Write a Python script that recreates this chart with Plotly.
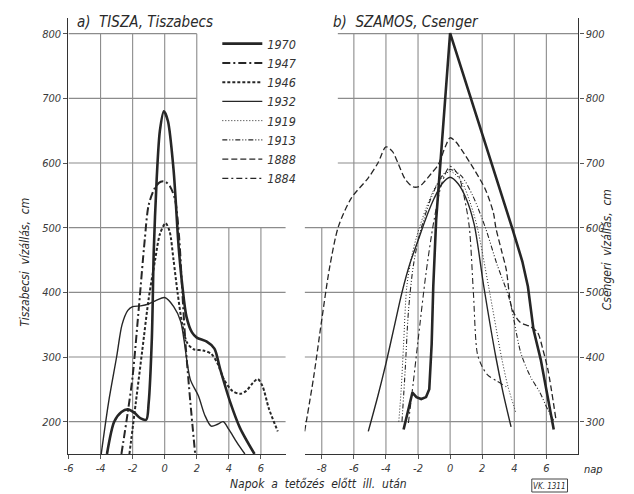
import plotly.graph_objects as go

# ---------------- data: a) TISZA, Tiszabecs (left panel) ----------------
T1970_X = [-3.6, -3.15, -2.7, -2.3, -1.9, -1.5, -1.15, -1.0, -0.8, -0.68, -0.5, -0.3, -0.05, 0.2, 0.55, 0.87, 1.1, 1.36, 1.7, 2.0, 2.6, 3.1, 3.45, 4.1, 4.7, 5.6]
T1970_Y = [150, 200, 215, 219, 214, 205, 203, 229, 330, 466, 575, 650, 680, 665, 590, 470, 410, 362, 338, 330, 324, 313, 282, 229, 190, 150]

T1947_X = [-2.7, -2.3, -2.0, -1.6, -1.25, -1.0, -0.6, -0.25, 0.05, 0.35, 0.65, 0.9, 1.1, 1.3, 1.6, 1.9]
T1947_Y = [150, 215, 270, 380, 480, 535, 562, 571, 571, 563, 543, 485, 400, 320, 230, 150]

T1946_X = [-2.2, -1.8, -1.4, -1.0, -0.6, -0.3, 0.05, 0.3, 0.55, 0.8, 1.1, 1.4, 1.8, 2.4, 2.9, 3.3, 3.7, 4.2, 4.7, 5.1, 5.5, 5.8, 6.1, 6.5, 7.05]
T1946_Y = [150, 230, 310, 390, 450, 490, 507, 495, 450, 400, 350, 322, 312, 310, 305, 290, 265, 248, 243, 248, 260, 266, 255, 220, 185]

T1932_X = [-3.96, -3.5, -3.0, -2.66, -2.3, -2.0, -1.5, -1.0, -0.5, 0.0, 0.56, 1.0, 1.2, 1.6, 2.1, 2.5, 2.9, 3.3, 3.65, 4.0, 4.5, 5.0]
T1932_Y = [150, 230, 300, 350, 372, 378, 379, 382, 388, 392, 378, 355, 327, 265, 240, 210, 193, 196, 200, 188, 168, 150]

# ---------------- data: b) SZAMOS, Csenger (right panel) ----------------
S1970_X = [-2.9, -2.6, -2.35, -2.1, -1.8, -1.5, -1.3, -1.15, -1.05, -0.87, 0.0, 3.9, 4.5, 4.85, 5.2, 5.65, 6.46]
S1970_Y = [288, 322, 345, 338, 335, 338, 350, 420, 509, 612, 901, 597, 548, 509, 442, 396, 288]

S1932_X = [-5.1, -4.5, -4.0, -3.5, -3.0, -2.5, -2.0, -1.5, -1.0, -0.5, 0.0, 0.5, 1.0, 1.5, 2.1, 2.85, 3.3, 3.8]
S1932_Y = [285, 340, 390, 445, 500, 545, 580, 615, 645, 668, 678, 668, 645, 605, 509, 400, 345, 292]

S1919_X = [-3.2, -3.05, -2.9, -2.7, -2.4, -2.1, -1.5, -0.8, 0.0, 0.7, 1.3, 1.7, 2.4, 3.2, 3.6, 4.1]
S1919_Y = [300, 350, 420, 509, 555, 585, 630, 668, 687, 672, 635, 600, 509, 400, 355, 314]

S1913_X = [-3.0, -2.8, -2.6, -2.3, -1.9, -1.2, -0.5, 0.0, 0.7, 1.4, 2.2, 2.9, 3.7, 4.4, 5.0, 5.6, 6.1, 6.5]
S1913_Y = [300, 380, 470, 540, 590, 645, 680, 690, 680, 650, 600, 545, 489, 407, 370, 345, 318, 300]

S1888_X = [-9.07, -8.5, -8.0, -7.5, -6.96, -6.15, -5.1, -4.5, -4.0, -3.6, -3.25, -2.8, -2.3, -1.9, -1.6, -1.2, -0.75, -0.3, 0.0, 0.35, 0.7, 1.5, 2.2, 2.7, 2.85, 3.2, 3.5, 3.8, 4.1, 4.4, 5.0, 5.45, 5.8, 6.1, 6.6]
S1888_Y = [285, 370, 458, 540, 602, 646, 677, 700, 725, 718, 700, 675, 663, 664, 671, 683, 697, 725, 739, 733, 721, 690, 659, 623, 600, 565, 535, 480, 462, 453, 447, 438, 410, 380, 303]

S1884_X = [-2.6, -2.3, -2.0, -1.5, -1.0, -0.5, 0.0, 0.5, 0.9, 1.2, 1.45, 1.7, 2.0, 2.35, 2.9, 3.5]
S1884_Y = [298, 360, 425, 530, 612, 670, 695, 682, 645, 600, 500, 405, 385, 372, 363, 354]

YEARS = ["1970", "1947", "1946", "1932", "1919", "1913", "1888", "1884"]

LEFT_X_TICKS = [-6, -4, -2, 0, 2, 4, 6]
RIGHT_X_TICKS = [-8, -6, -4, -2, 0, 2, 4, 6]
LEFT_Y_TICKS = [200, 300, 400, 500, 600, 700, 800]
RIGHT_Y_TICKS = [300, 400, 500, 600, 700, 800, 900]

TISZA = {"1970": (T1970_X, T1970_Y), "1947": (T1947_X, T1947_Y),
         "1946": (T1946_X, T1946_Y), "1932": (T1932_X, T1932_Y)}
SZAMOS = {"1970": (S1970_X, S1970_Y), "1932": (S1932_X, S1932_Y),
          "1919": (S1919_X, S1919_Y), "1913": (S1913_X, S1913_Y),
          "1888": (S1888_X, S1888_Y), "1884": (S1884_X, S1884_Y)}

INK = "#262626"
STYLE = {
    "1970": dict(width=2.6, dash="solid"),
    "1947": dict(width=2.0, dash="8px,3px,2px,3px"),
    "1946": dict(width=2.0, dash="3px,2px"),
    "1932": dict(width=1.4, dash="solid"),
    "1919": dict(width=1.0, dash="1px,2px"),
    "1913": dict(width=1.1, dash="5px,2px,1px,2px,1px,2px"),
    "1888": dict(width=1.3, dash="6px,3px"),
    "1884": dict(width=1.1, dash="6px,3px,2px,3px"),
}

FONT = "Liberation Sans Narrow, DejaVu Sans Condensed, Liberation Sans, sans-serif"
W, H = 634, 494

fig = go.Figure()
for yr in YEARS:
    shown = False
    for data, xa, ya in ((TISZA, "x", "y"), (SZAMOS, "x2", "y2")):
        if yr not in data:
            continue
        xs, ys = data[yr]
        linear = (yr == "1970" and xa == "x2")
        fig.add_trace(go.Scatter(
            x=xs, y=ys, xaxis=xa, yaxis=ya, mode="lines", name=yr,
            legendgroup=yr, showlegend=not shown,
            line=dict(color=INK, width=STYLE[yr]["width"], dash=STYLE[yr]["dash"],
                      shape="linear" if linear else "spline", smoothing=0.8),
            hoverinfo="skip"))
        shown = True

# partial grid as in the original drawing
GRID = dict(color="#8c8c8c", width=1.1)
shapes = []
for v in [-4, -2, 0, 2]:
    shapes.append(dict(type="line", xref="x", yref="y", x0=v, x1=v, y0=150, y1=800, line=GRID, layer="below"))
for v in [4, 6]:
    shapes.append(dict(type="line", xref="x", yref="y", x0=v, x1=v, y0=150, y1=500, line=GRID, layer="below"))
for h in [200, 300, 400, 500]:
    shapes.append(dict(type="line", xref="x", yref="y", x0=-6, x1=7.55, y0=h, y1=h, line=GRID, layer="below"))
for h in [600, 700, 800]:
    shapes.append(dict(type="line", xref="x", yref="y", x0=-6, x1=2, y0=h, y1=h, line=GRID, layer="below"))
for v in [-6, -4, -2, 0, 2, 4, 6]:
    shapes.append(dict(type="line", xref="x2", yref="y2", x0=v, x1=v, y0=250, y1=900, line=GRID, layer="below"))
shapes.append(dict(type="line", xref="x2", yref="y2", x0=-8, x1=-8, y0=250, y1=600, line=GRID, layer="below"))
for h in [300, 400, 500, 600]:
    shapes.append(dict(type="line", xref="x2", yref="y2", x0=-9.07, x1=8.0, y0=h, y1=h, line=GRID, layer="below"))
for h in [700, 800, 900]:
    shapes.append(dict(type="line", xref="x2", yref="y2", x0=-7.0, x1=8.0, y0=h, y1=h, line=GRID, layer="below"))
# reference box
shapes.append(dict(type="rect", xref="paper", yref="paper", x0=531 / W, x1=567 / W,
                   y0=1 - 492 / H, y1=1 - 479 / H, line=dict(color="#444", width=1)))

tickfont = dict(family=FONT, size=11, color="#3a3a3a", style="italic")
axis_common = dict(showgrid=False, zeroline=False, showline=True, linecolor="#333", linewidth=1.3,
                   ticks="outside", ticklen=4, tickcolor="#555", tickfont=tickfont)

ydom = [(H - 454) / H, (H - 17.5) / H]
fig.update_layout(
    width=W, height=H, margin=dict(l=0, r=0, t=0, b=0),
    paper_bgcolor="white", plot_bgcolor="white",
    xaxis=dict(domain=[64 / W, 283 / W], range=[-6, 7.55], tickvals=LEFT_X_TICKS,
               ticktext=[str(v) for v in LEFT_X_TICKS], anchor="y", **axis_common),
    yaxis=dict(domain=ydom, range=[150, 825], tickvals=LEFT_Y_TICKS, anchor="x", **axis_common),
    xaxis2=dict(domain=[302 / W, 578 / W], range=[-9.07, 8.0], tickvals=RIGHT_X_TICKS,
                ticktext=[str(v) for v in RIGHT_X_TICKS], anchor="y2", **axis_common),
    yaxis2=dict(domain=ydom, range=[250, 925], tickvals=RIGHT_Y_TICKS, anchor="x2", side="right", **axis_common),
    shapes=shapes,
    showlegend=True,
    legend=dict(x=214 / W, y=1 - 29 / H, xanchor="left", yanchor="top", bgcolor="rgba(0,0,0,0)",
                font=dict(family=FONT, size=12.5, color="#333", style="italic"),
                itemwidth=40, tracegroupgap=0, traceorder="normal"),
)

def ann(text, px, py, size=12, angle=0, xanchor="center", **kw):
    fig.add_annotation(text=text, xref="paper", yref="paper", x=px / W, y=1 - py / H,
                       showarrow=False, textangle=angle, xanchor=xanchor, yanchor="middle",
                       font=dict(family=FONT, size=size, color="#2a2a2a", style="italic"), **kw)

ann("a)  TISZA, Tiszabecs", 71, 22, size=15, xanchor="left")
ann("b)  SZAMOS, Csenger", 329, 22, size=15, xanchor="left")
ann("Tiszabecsi  vízállás,  cm", 20, 262, size=12, angle=-90)
ann("Csengeri  vízállás,  cm", 607, 250, size=12, angle=-90)
ann("Napok  a  tetőzés  előtt  ill.  után", 316, 484, size=12)
ann("nap", 582, 469, size=11, xanchor="left")
ann("VK. 1311", 549, 486, size=8)

fig.write_html("out.html", config={"displayModeBar": False},
               post_script="document.body.style.margin='0px';document.body.style.overflow='hidden';")
